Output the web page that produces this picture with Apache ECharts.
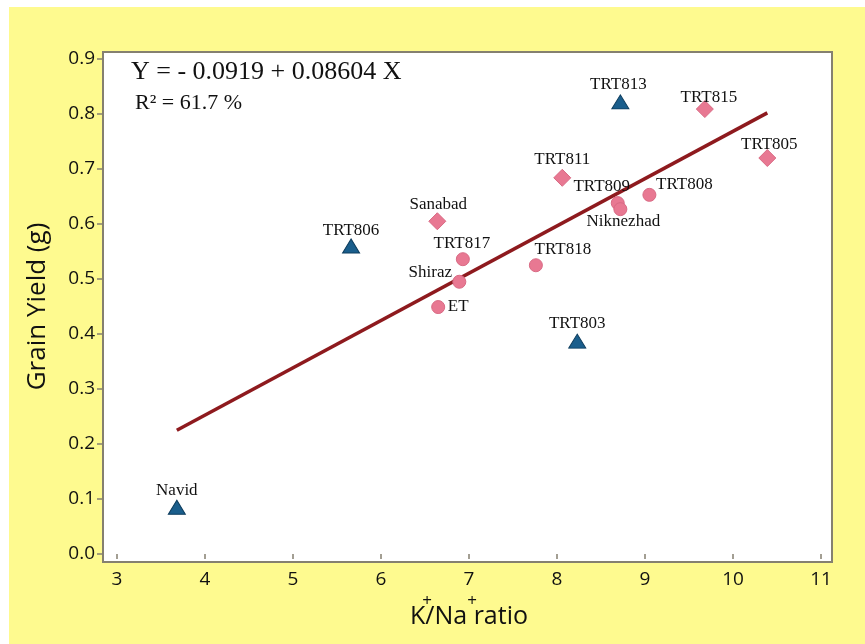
<!DOCTYPE html>
<html><head><meta charset="utf-8">
<script src="https://cdn.jsdelivr.net/npm/echarts@6/dist/echarts.min.js"></script>
<style>html,body{margin:0;padding:0;background:#fff}#c{width:865px;height:644px}</style>
</head><body><div id="c"></div>
<script>
// ---- data ----
const xTicks = [3,4,5,6,7,8,9,10,11];
const yTicks = [0.0,0.1,0.2,0.3,0.4,0.5,0.6,0.7,0.8,0.9];
const triNames = ['Navid','TRT806','TRT813','TRT803'];
const triX = [3.68, 5.66, 8.72, 8.23];
const triY = [0.085, 0.56, 0.822, 0.387];
const diaNames = ['Sanabad','TRT811','TRT815','TRT805'];
const diaX = [6.64, 8.06, 9.68, 10.39];
const diaY = [0.605, 0.684, 0.809, 0.72];
const cirNames = ['TRT817','Shiraz','ET','TRT818','TRT809','Niknezhad','TRT808'];
const cirX = [6.93, 6.89, 6.65, 7.76, 8.69, 8.72, 9.05];
const cirY = [0.536, 0.495, 0.449, 0.525, 0.638, 0.627, 0.653];
const fitX = [3.68, 10.39];
const fitY = [0.225, 0.802];

// ---- label placement (style) ----
const labelOffset = {
  Navid:[0,-17], TRT806:[0,-15], TRT813:[-2,-17], TRT803:[0,-18],
  Sanabad:[1,-17], TRT811:[0,-18], TRT815:[4,-12], TRT805:[2,-13],
  TRT817:[-1,-16], Shiraz:[-29,-9], ET:[20,-1], TRT818:[27,-16],
  TRT809:[-16,-17], Niknezhad:[3,12], TRT808:[35,-10]
};
function pts(names, xs, ys){
  return names.map((n,i)=>({name:n, value:[xs[i], ys[i]],
    label:{show:true, position:'inside', offset:labelOffset[n], formatter:n,
      fontFamily:'Liberation Serif', fontSize:17, color:'#111', align:'center', verticalAlign:'middle'}}));
}
const pink = '#E87892';
const chart = echarts.init(document.getElementById('c'), null, {renderer:'canvas'});
chart.setOption({
  backgroundColor:'#ffffff',
  animation:false,
  graphic:[
    {type:'rect', z:-10, silent:true, shape:{x:9,y:7,width:856,height:637}, style:{fill:'#FEFA8F'}},
    {type:'rect', z:-9, silent:true, shape:{x:103,y:52,width:729,height:510}, style:{fill:'#ffffff', stroke:'#858070', lineWidth:2}},
    {type:'text', z:50, style:{text:'Y = - 0.0919 + 0.08604 X', x:131, y:72.5, font:'26px "Liberation Serif"', fill:'#111', textVerticalAlign:'middle'}},
    {type:'text', z:50, style:{text:'R² = 61.7 %', x:135, y:103.5, font:'22px "Liberation Serif"', fill:'#111', textVerticalAlign:'middle'}},
    {type:'text', z:50, style:{text:'+', x:427, y:601, font:'17px "Open Sans"', fill:'#111', textAlign:'center', textVerticalAlign:'middle'}},
    {type:'text', z:50, style:{text:'+', x:472, y:601, font:'17px "Open Sans"', fill:'#111', textAlign:'center', textVerticalAlign:'middle'}}
  ],
  grid:{left:117, right:44, top:59, bottom:90, containLabel:false},
  xAxis:{type:'value', min:xTicks[0], max:xTicks[xTicks.length-1], interval:1, offset:8,
    name:'K/Na ratio', nameLocation:'middle', nameGap:42,
    nameTextStyle:{fontFamily:'Open Sans', fontSize:25, color:'#111'},
    axisLine:{show:false}, splitLine:{show:false},
    axisTick:{show:true, length:5, lineStyle:{color:'#858070', width:1.5}},
    axisLabel:{fontFamily:'Open Sans', fontSize:19, color:'#111', margin:8}},
  yAxis:{type:'value', min:yTicks[0], max:yTicks[yTicks.length-1], interval:0.1, offset:14,
    name:'Grain Yield (g)', nameLocation:'middle', nameGap:52,
    nameTextStyle:{fontFamily:'Open Sans', fontSize:26, color:'#111'},
    axisLine:{show:false}, splitLine:{show:false},
    axisTick:{show:true, length:6, lineStyle:{color:'#858070', width:1.5}},
    axisLabel:{fontFamily:'Open Sans', fontSize:19, color:'#111', margin:8, formatter:v=>v.toFixed(1)}},
  series:[
    {type:'line', data:fitX.map((x,i)=>[x,fitY[i]]), symbol:'none', z:1,
      lineStyle:{color:'#8E1A1E', width:3.5}},
    {type:'scatter', z:3, symbol:'triangle', symbolSize:[17,14], data:pts(triNames,triX,triY),
      itemStyle:{color:'#1A5E8C', borderColor:'#0D3D5E', borderWidth:1, opacity:1}},
    {type:'scatter', z:3, symbol:'diamond', symbolSize:[17,17], data:pts(diaNames,diaX,diaY),
      itemStyle:{color:pink, borderColor:'#D96A84', borderWidth:1, opacity:1}},
    {type:'scatter', z:3, symbol:'circle', symbolSize:13, data:pts(cirNames,cirX,cirY),
      itemStyle:{color:pink, borderColor:'#D96A84', borderWidth:1, opacity:1}}
  ]
});
</script></body></html>
